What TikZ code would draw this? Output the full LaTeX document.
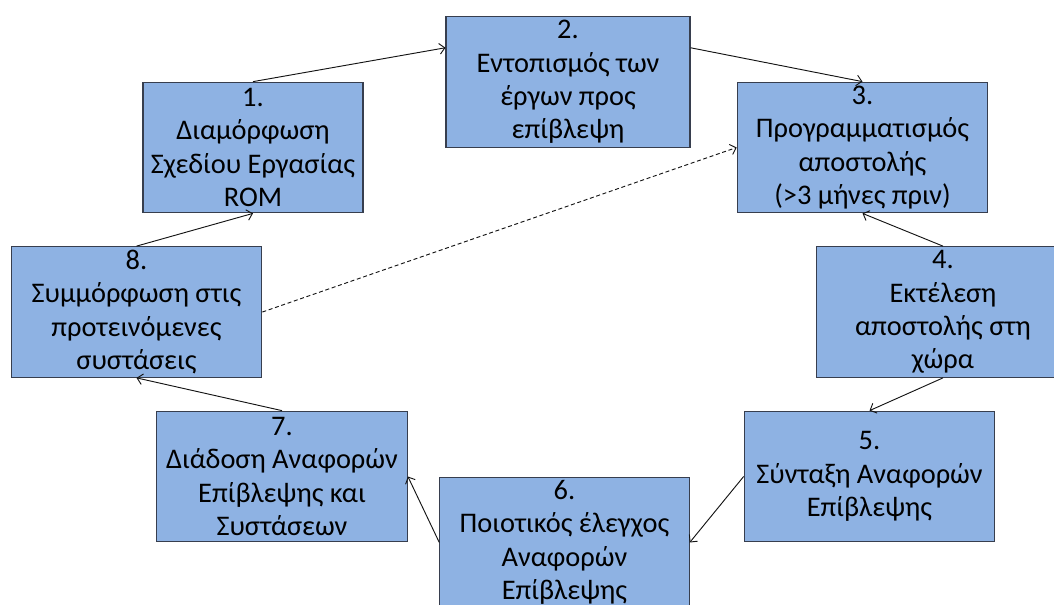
\documentclass[tikz,border=0pt]{standalone}
\usepackage{fontspec}
\setmainfont{Carlito}
\usepackage{tikz}
\usetikzlibrary{arrows.meta,calc}
\definecolor{stepFill}{RGB}{142,178,227}
\definecolor{stepLine}{RGB}{55,62,78}
\definecolor{arrowInk}{RGB}{20,20,20}
\tikzset{
  stepbox/.style={draw=stepLine, line width=0.8pt, fill=stepFill, align=center, minimum height=98pt, inner sep=2pt, font=\fontsize{21.3}{25}\selectfont},
  flow/.style={-{Straight Barb[length=4pt,width=8pt]}, line width=0.7pt, draw=arrowInk},
  dashflow/.style={flow, dash pattern=on 3pt off 2pt}
}
\begin{document}
\begin{tikzpicture}[x=0.75pt, y=-0.75pt]
        \useasboundingbox (0,0) rectangle (1054,604);
        \node[stepbox, minimum width=165pt] (s1) at (253,147.5) {1.\\Διαμόρφωση\\Σχεδίου Εργασίας\\ROM};
        \node[stepbox, minimum width=183pt] (s2) at (568,82) {2.\\Εντοπισμός των\\έργων προς\\επίβλεψη};
        \node[stepbox, minimum width=188pt] (s3) at (862.5,147.5) {3.\\Προγραμματισμός\\αποστολής\\(>3 μήνες πριν)};
        \node[stepbox, minimum width=190pt] (s4) at (943,312) {4.\\Εκτέλεση\\αποστολής στη\\χώρα};
        \node[stepbox, minimum width=188pt] (s5) at (869.5,476.5) {5.\\Σύνταξη Αναφορών\\Επίβλεψης};
        \node[stepbox, minimum width=187pt] (s6) at (564.5,542.5) {6.\\Ποιοτικός έλεγχος\\Αναφορών\\Επίβλεψης};
        \node[stepbox, minimum width=188pt] (s7) at (282,476.5) {7.\\Διάδοση Αναφορών\\Επίβλεψης και\\Συστάσεων};
        \node[stepbox, minimum width=188pt] (s8) at (136.5,312) {8.\\Συμμόρφωση στις\\προτεινόμενες\\συστάσεις};
        \draw[flow] (s1.north) -- ($(s2.north west)!0.24!(s2.south west)$);
        \draw[flow] ($(s2.north east)!0.24!(s2.south east)$) -- (s3.north);
        \draw[flow] (s4.north) -- (s3.south);
        \draw[flow] (s4.south) -- (s5.north);
        \draw[flow] (s5.west) -- (s6.east);
        \draw[flow] (s6.west) -- (s7.east);
        \draw[flow] (s7.north) -- (s8.south);
        \draw[flow] (s8.north) -- (s1.south);
        \draw[dashflow] (s8.east) -- (s3.west);
      \end{tikzpicture}
\end{document}
